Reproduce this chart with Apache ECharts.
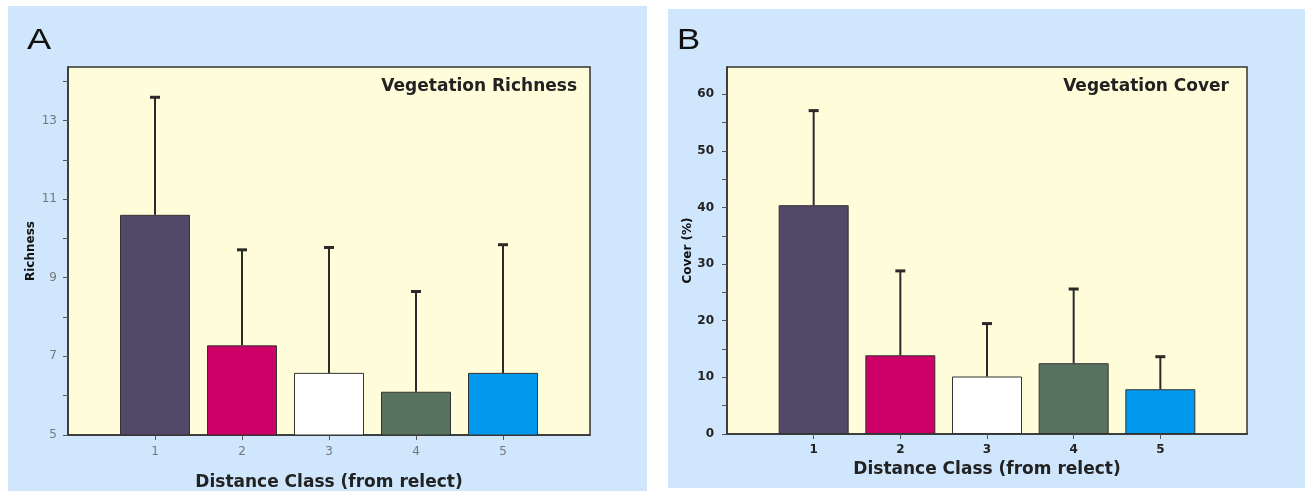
<!DOCTYPE html>
<html lang="en">
<head>
    <meta charset="UTF-8">
    <title>Vegetation Richness / Cover</title>
    <script src="https://cdn.jsdelivr.net/npm/echarts@6/dist/echarts.min.js"></script>
    <style>
        html, body { margin: 0; padding: 0; background: #fff; }
        #chart { width: 1305px; height: 491px; }
    </style>
</head>
<body>
<div id="chart"></div>
<script type="text/javascript">
    // distance classes (x axis)
    var classes = [1, 2, 3, 4, 5];
    // panel A: richness mean and top of error bar
    var richMean = [10.6, 7.28, 6.58, 6.1, 6.58];
    var richUpper = [13.59, 9.71, 9.77, 8.65, 9.84];
    // panel B: cover (%) mean and top of error bar
    var coverMean = [40.4, 13.9, 10.15, 12.5, 7.9];
    var coverUpper = [57.1, 28.8, 19.5, 25.6, 13.65];
    // tick labels
    var richTicks = [5, 7, 9, 11, 13];
    var richMinor = [5, 6, 7, 8, 9, 10, 11, 12, 13, 14];
    var coverTicks = [0, 10, 20, 30, 40, 50, 60];
    var coverMinor = [0, 5, 10, 15, 20, 25, 30, 35, 40, 45, 50, 55, 60];
    var barColors = ['#524868', '#cc0066', '#ffffff', '#587260', '#0099ee'];

    function pairs(ys) {
        return classes.map(function (c, i) { return [c, ys[i]]; });
    }
    function errData(lo, hi) {
        return classes.map(function (c, i) { return [c, lo[i], hi[i]]; });
    }
    function renderErr(params, api) {
        var base = api.coord([api.value(0), api.value(1)]);
        var top = api.coord([api.value(0), api.value(2)]);
        return {
            type: 'group',
            children: [
                {type: 'line', shape: {x1: base[0], y1: base[1], x2: top[0], y2: top[1]},
                    style: {stroke: '#2a2a2a', lineWidth: 2}},
                {type: 'line', shape: {x1: top[0] - 5, y1: top[1], x2: top[0] + 5, y2: top[1]},
                    style: {stroke: '#2a2a2a', lineWidth: 3}}
            ]
        };
    }

    var myChart = echarts.init(document.getElementById('chart'));
    var font = 'DejaVu Sans, Liberation Sans, sans-serif';
    var letterFont = '29px Liberation Sans, Arial, sans-serif';

    myChart.setOption({
        animation: false,
        textStyle: {fontFamily: font},
        graphic: [
            {type: 'rect', z: -10, shape: {x: 8, y: 6, width: 639, height: 485}, style: {fill: '#cfe6fc'}},
            {type: 'rect', z: -10, shape: {x: 668, y: 9, width: 637, height: 479}, style: {fill: '#cfe6fc'}},
            {type: 'text', x: 27, y: 26, scaleX: 1.25, style: {text: 'A', font: letterFont, fill: '#111'}},
            {type: 'text', x: 677, y: 26, scaleX: 1.2, style: {text: 'B', font: letterFont, fill: '#111'}}
        ],
        title: [
            {text: 'Vegetation Richness', right: 723, top: 73,
                textStyle: {fontSize: 17, fontWeight: 'bold', color: '#222', fontFamily: font}},
            {text: 'Vegetation Cover', right: 71, top: 73,
                textStyle: {fontSize: 17, fontWeight: 'bold', color: '#222', fontFamily: font}}
        ],
        grid: [
            {left: 68, top: 67, width: 522, height: 368, show: true, outerBoundsMode: 'none',
                backgroundColor: '#fffcd9', borderColor: '#333', borderWidth: 1.5},
            {left: 727, top: 67, width: 520, height: 367, show: true, outerBoundsMode: 'none',
                backgroundColor: '#fffcd9', borderColor: '#333', borderWidth: 1.5}
        ],
        xAxis: [
            {type: 'value', gridIndex: 0, min: 0, max: 6, splitLine: {show: false},
                name: 'Distance Class (from relect)', nameLocation: 'middle', nameGap: 39,
                nameTextStyle: {fontSize: 17, fontWeight: 'bold', color: '#222'},
                axisLine: {lineStyle: {color: '#333', width: 1.5}},
                axisTick: {customValues: classes, length: 5, lineStyle: {color: '#555'}},
                axisLabel: {customValues: classes, color: '#777', fontSize: 12, margin: 11}},
            {type: 'value', gridIndex: 1, min: 0, max: 6, splitLine: {show: false},
                name: 'Distance Class (from relect)', nameLocation: 'middle', nameGap: 25,
                nameTextStyle: {fontSize: 17, fontWeight: 'bold', color: '#222'},
                axisLine: {lineStyle: {color: '#333', width: 1.5}},
                axisTick: {customValues: classes, length: 5, lineStyle: {color: '#555'}},
                axisLabel: {customValues: classes, color: '#222', fontWeight: 'bold', fontSize: 12, margin: 10}}
        ],
        yAxis: [
            {type: 'value', gridIndex: 0, min: 5, max: 14.36, splitLine: {show: false},
                name: 'Richness', nameLocation: 'middle', nameGap: 31,
                nameTextStyle: {fontSize: 12, fontWeight: 'bold', color: '#111'},
                axisLine: {show: true, lineStyle: {color: '#333', width: 1.5}},
                axisTick: {show: true, customValues: richMinor, length: 5, lineStyle: {color: '#555'}},
                axisLabel: {customValues: richTicks, color: '#777', fontSize: 12, margin: 11}},
            {type: 'value', gridIndex: 1, min: 0, max: 64.8, splitLine: {show: false},
                name: 'Cover (%)', nameLocation: 'middle', nameGap: 33,
                nameTextStyle: {fontSize: 12, fontWeight: 'bold', color: '#111'},
                axisLine: {show: true, lineStyle: {color: '#333', width: 1.5}},
                axisTick: {show: true, customValues: coverMinor, length: 5, lineStyle: {color: '#555'}},
                axisLabel: {customValues: coverTicks, color: '#222', fontWeight: 'bold', fontSize: 12, margin: 13}}
        ],
        series: [
            {type: 'bar', xAxisIndex: 0, yAxisIndex: 0, barWidth: 70, data: pairs(richMean),
                itemStyle: {color: function (p) { return barColors[p.dataIndex]; }, borderColor: '#333', borderWidth: 1}},
            {type: 'custom', xAxisIndex: 0, yAxisIndex: 0, z: 5, renderItem: renderErr,
                data: errData(richMean, richUpper)},
            {type: 'bar', xAxisIndex: 1, yAxisIndex: 1, barWidth: 70, data: pairs(coverMean),
                itemStyle: {color: function (p) { return barColors[p.dataIndex]; }, borderColor: '#333', borderWidth: 1}},
            {type: 'custom', xAxisIndex: 1, yAxisIndex: 1, z: 5, renderItem: renderErr,
                data: errData(coverMean, coverUpper)}
        ]
    });
</script>
</body>
</html>
